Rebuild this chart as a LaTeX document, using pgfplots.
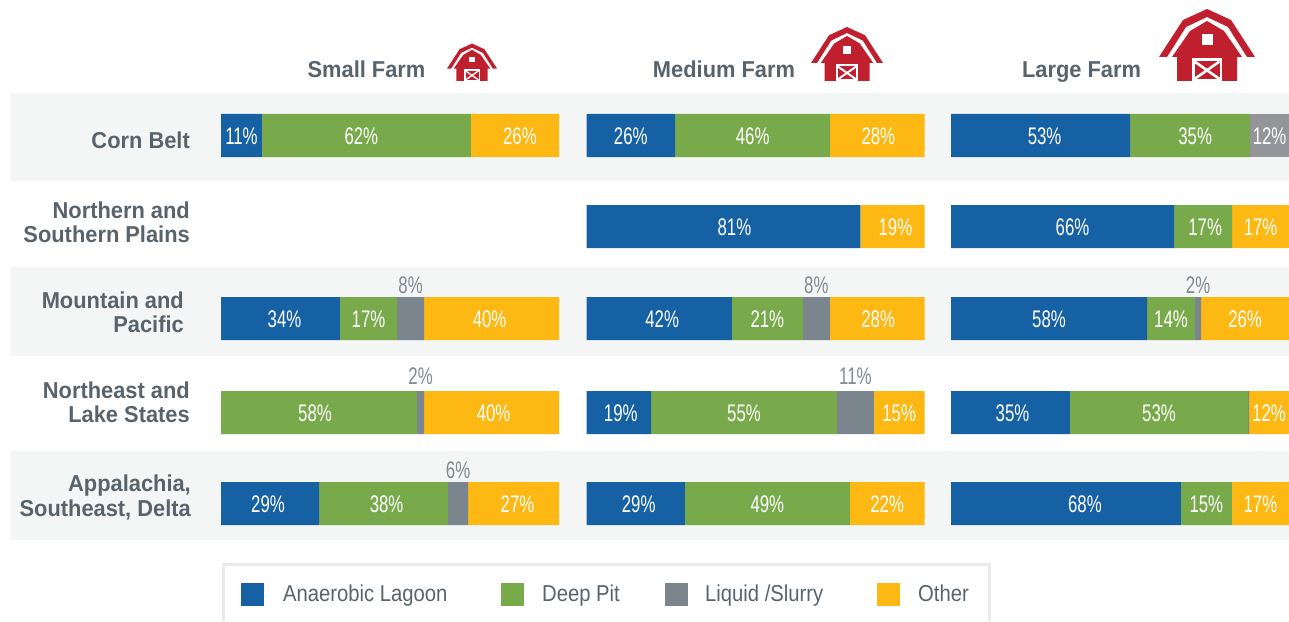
\documentclass[border=0pt]{standalone}
\usepackage{fontspec}
\setmainfont[FakeStretch=0.70]{Liberation Sans}
\newfontfamily\titlefont[FakeStretch=0.95]{Liberation Sans}
\newfontfamily\legendfont[FakeStretch=0.88]{Liberation Sans}
\usepackage{pgfplots}
\pgfplotsset{compat=1.18}
\definecolor{cblue}{HTML}{1660A4}
\definecolor{cgreen}{HTML}{78AA4B}
\definecolor{cgray}{HTML}{7A858D}
\definecolor{cgrayb}{HTML}{939598}
\definecolor{cyellow}{HTML}{FDB813}
\definecolor{cband}{HTML}{F4F6F5}
\definecolor{ctext}{HTML}{58636B}
\definecolor{clabel}{HTML}{808A91}
\definecolor{cred}{HTML}{C01F2E}
\definecolor{cborder}{HTML}{EBEBEB}
% label nudged sideways by #1 pt from the segment's middle
\protected\def\sh#1#2{\hspace*{\dimexpr 2pt*#1\relax}#2}
\protected\def\up#1{\raisebox{6pt}{#1}}
\pgfplotsset{
  panel/.style={
    scale only axis, width=338pt, height=621pt,
    xbar stacked, bar width=43pt,
    xmin=0, xmax=100, ymin=0, ymax=621, y dir=reverse,
    hide axis, clip=false,
    point meta=explicit symbolic,
    nodes near coords,
    every node near coord/.append style={text=white, anchor=center, font=\fontsize{24}{26}\selectfont, inner sep=0pt, yshift=-0.5pt},
  },
  seg/.style={draw=none, fill=#1},
  above seg/.style={draw=none, fill=#1, every node near coord/.append style={text=clabel, yshift=34pt}},
}
\newcommand{\barn}[3]{%
  \begin{scope}[shift={(#1,#2)}, x=#3pt, y=#3pt]
    \fill[cred] (0,72) -- (24,61) -- (48,24) -- (40,24) -- (21,54) -- (0,64) -- (-21,54) -- (-40,24) -- (-48,24) -- (-24,61) -- cycle;
    \fill[cred] (0,60) -- (17,50) -- (35,24) -- (30,24) -- (30,0) -- (-30,0) -- (-30,24) -- (-35,24) -- (-17,50) -- cycle;
    \fill[white] (-5.5,36) rectangle (5.5,47);
    \fill[white] (-15,0) rectangle (15,23);
    \fill[cred] (-12.5,2) rectangle (12.5,19.5);
    \draw[white, line width=#3*2.6pt] (-12.5,2) -- (12.5,19.5) (-12.5,19.5) -- (12.5,2);
  \end{scope}%
}
\begin{document}
\begin{tikzpicture}[x=1pt,y=1pt]
\path[use as bounding box] (0,0) rectangle (1289,621);
% bands
\fill[cband] (10,621-93) rectangle (1289,621-181);
\fill[cband] (10,621-267) rectangle (1289,621-356);
\fill[cband] (10,621-451) rectangle (1289,621-540);
% small
\begin{axis}[panel, at={(221pt,0pt)}]
\addplot[seg=cblue] coordinates {(12.1,135.5)[11\%] (0,226.5)[] (35.2,318.5)[\sh{4}{34\%}] (0,412.5)[] (29.0,503.5)[\sh{-2}{29\%}]};
\addplot[seg=cgreen] coordinates {(61.8,135.5)[\sh{-5}{62\%}] (0,226.5)[] (16.9,318.5)[17\%] (58.0,412.5)[\sh{-4}{58\%}] (38.2,503.5)[\sh{3}{38\%}]};
\addplot[above seg=cgray] coordinates {(0,135.5)[] (0,226.5)[] (8.0,318.5)[8\%] (2.1,412.5)[\up{2\%}] (5.9,503.5)[6\%]};
\addplot[seg=cyellow] coordinates {(26.1,135.5)[\sh{5}{26\%}] (0,226.5)[] (39.9,318.5)[\sh{-2}{40\%}] (39.9,412.5)[\sh{2}{40\%}] (26.9,503.5)[\sh{4}{27\%}]};
\end{axis}
% medium
\begin{axis}[panel, at={(586.5pt,0pt)}]
\addplot[seg=cblue] coordinates {(26.2,135.5)[26\%] (81.0,226.5)[\sh{11}{81\%}] (43.0,318.5)[\sh{3}{42\%}] (19.1,412.5)[\sh{2}{19\%}] (29.1,503.5)[\sh{3}{29\%}]};
\addplot[seg=cgreen] coordinates {(45.9,135.5)[46\%] (0,226.5)[] (21.0,318.5)[21\%] (55.0,412.5)[55\%] (48.8,503.5)[49\%]};
\addplot[above seg=cgray] coordinates {(0,135.5)[] (0,226.5)[] (8.0,318.5)[8\%] (10.9,412.5)[\up{11\%}] (0,503.5)[]};
\addplot[seg=cyellow] coordinates {(27.9,135.5)[\sh{1}{28\%}] (19.0,226.5)[\sh{3}{19\%}] (28.0,318.5)[\sh{1}{28\%}] (15.0,412.5)[15\%] (22.1,503.5)[22\%]};
\end{axis}
% large
\begin{axis}[panel, at={(951pt,0pt)}]
\addplot[seg=cblue] coordinates {(53.0,135.5)[\sh{4}{53\%}] (66.0,226.5)[\sh{10}{66\%}] (58.0,318.5)[58\%] (35.2,412.5)[\sh{2}{35\%}] (68.0,503.5)[\sh{19}{68\%}]};
\addplot[seg=cgreen] coordinates {(35.5,135.5)[\sh{5}{35\%}] (17.2,226.5)[\sh{2}{17\%}] (14.2,318.5)[14\%] (52.7,412.5)[53\%] (15.1,503.5)[15\%]};
\addplot[seg=cgrayb] coordinates {(11.5,135.5)[12\%] (0,226.5)[] (0,318.5)[] (0,412.5)[] (0,503.5)[]};
\addplot[above seg=cgray] coordinates {(0,135.5)[] (0,226.5)[] (1.8,318.5)[2\%] (0.3,412.5)[] (0,503.5)[]};
\addplot[seg=cyellow] coordinates {(0,135.5)[] (16.8,226.5)[17\%] (26.0,318.5)[26\%] (11.8,412.5)[12\%] (16.9,503.5)[17\%]};
\end{axis}
% column titles
\begin{scope}[every node/.style={inner sep=0pt, text=ctext, font=\titlefont\fontsize{23}{25}\selectfont\bfseries, anchor=base}]
\node at (366.5,621-78) {Small Farm};
\node at (724,621-78) {Medium Farm};
\node at (1081.5,621-78) {Large Farm};
\end{scope}
\barn{472}{621-81}{0.52}
\barn{847}{621-81}{0.75}
\barn{1207}{621-81}{1}
% row labels
\begin{scope}[every node/.style={inner sep=0pt, text=ctext, font=\titlefont\fontsize{23}{25}\selectfont\bfseries, anchor=base east}]
\node at (190,621-149) {Corn Belt};
\node at (190,621-219) {Northern and};
\node at (190,621-243) {Southern Plains};
\node at (184,621-309) {Mountain and};
\node at (184,621-333) {Pacific};
\node at (190,621-399) {Northeast and};
\node at (190,621-423) {Lake States};
\node at (191,621-492) {Appalachia,};
\node at (191,621-516) {Southeast, Delta};
\end{scope}
% legend
\draw[cborder, line width=3pt] (223.5,0) -- (223.5,621-564.5) -- (989.5,621-564.5) -- (989.5,0);
\foreach \xx/\cc in {241/cblue,501/cgreen,665/cgray,877/cyellow}
  \fill[\cc] (\xx,621-583) rectangle (\xx+23,621-606);
\begin{scope}[every node/.style={inner sep=0pt, text=ctext, font=\legendfont\fontsize{23}{25}\selectfont, anchor=base west}]
\node at (283,621-601) {Anaerobic Lagoon};
\node at (542,621-601) {Deep Pit};
\node at (705,621-601) {Liquid /Slurry};
\node at (918,621-601) {Other};
\end{scope}
\end{tikzpicture}
\end{document}
